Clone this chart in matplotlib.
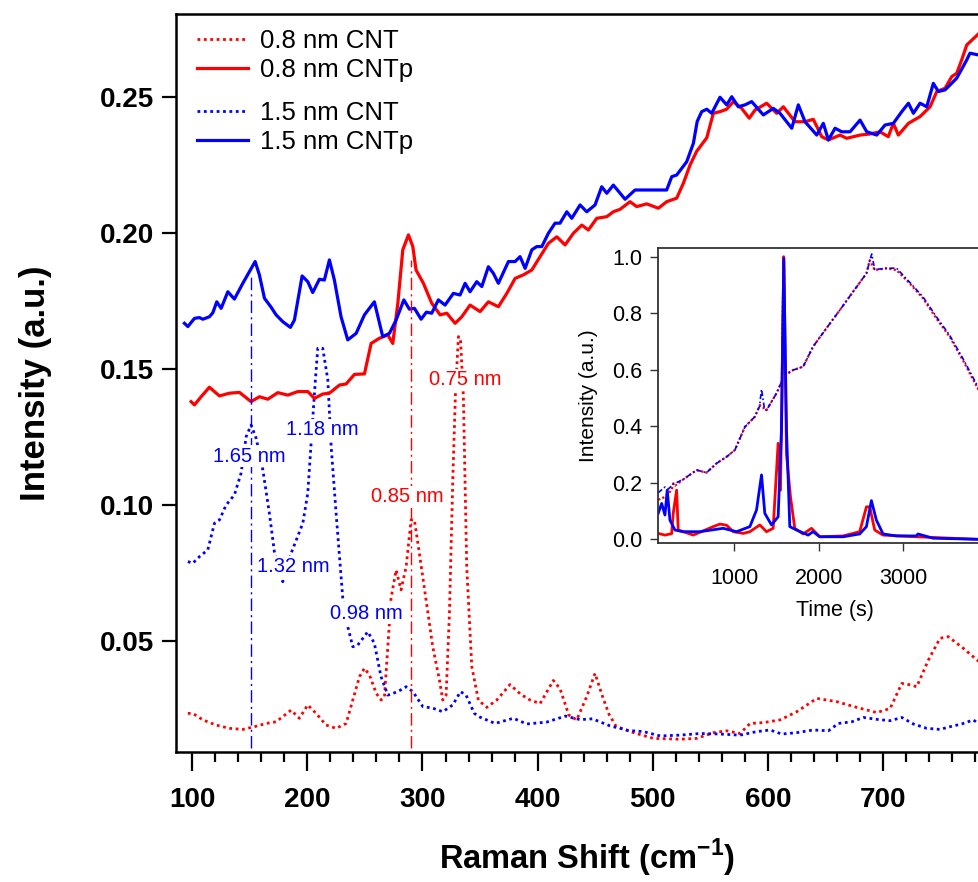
import matplotlib
matplotlib.use("Agg")
import matplotlib.pyplot as plt
from matplotlib.ticker import MultipleLocator, FormatStrFormatter
from matplotlib.lines import Line2D

plt.rcParams['font.family'] = ['Liberation Sans', 'DejaVu Sans']
plt.rcParams['mathtext.fontset'] = 'custom'
plt.rcParams['mathtext.rm'] = 'Liberation Sans'
plt.rcParams['mathtext.bf'] = 'Liberation Sans:bold'
plt.rcParams['lines.solid_joinstyle'] = 'round'

RED = '#ff0000'
BLUE = '#0000ff'

# ---- Raman spectra (RBM region) ----
# 0.8 nm CNT (dotted)
shift_08_cnt = [96.3, 100.6, 109.3, 120.8, 132.4, 144, 154.1, 164.2, 172.9, 178.7, 185.9, 193.1,
                200.4, 207.6, 216.3, 225, 233.7, 239.5, 245.3, 249.6, 254, 259.8, 264.1, 267,
                269.9, 272.7, 277.1, 281.4, 285.8, 290.1, 293, 297.3, 303.1, 308.9, 314.7, 317.6,
                320.5, 323.4, 326.3, 328.6, 331.2, 333, 335.5, 338.4, 342.8, 348.5, 355.8, 364.5,
                376, 385, 393.4, 402.1, 413.6, 419.4, 427, 433.9, 442.6, 449.8, 456, 462, 468,
                480.2, 500.4, 523.6, 538.1, 552.5, 564.1, 575.7, 584.4, 596, 610.4, 624.9, 642.3,
                659.6, 677, 694.4, 706, 716.1, 720.4, 729.1, 739.2, 749.3, 756.5, 769.6, 783.2]
int_08_cnt = [0.0234, 0.0234, 0.0210, 0.0191, 0.0179, 0.0175, 0.0185, 0.0197, 0.0203, 0.0222, 0.0246, 0.0216,
              0.0265, 0.0234, 0.0191, 0.0179, 0.0197, 0.0283, 0.0369, 0.0400, 0.0375, 0.0308, 0.0283, 0.0296,
              0.0479, 0.0657, 0.0761, 0.0688, 0.0773, 0.0945, 0.0945, 0.0822, 0.0651, 0.0479, 0.0357, 0.0283,
              0.0301, 0.0602, 0.1092, 0.1411, 0.1619, 0.1610, 0.1398, 0.0773, 0.0406, 0.0283, 0.0256, 0.0283,
              0.0340, 0.0305, 0.0283, 0.0270, 0.0355, 0.0325, 0.0228, 0.0210, 0.0296, 0.0381, 0.0300, 0.0230, 0.0187,
              0.0167, 0.0142, 0.0139, 0.0142, 0.0163, 0.0170, 0.0160, 0.0197, 0.0200, 0.0210, 0.0240, 0.0289,
              0.0277, 0.0256, 0.0237, 0.0252, 0.0344, 0.0342, 0.0332, 0.0430, 0.0510, 0.0516, 0.0473, 0.0424]

# 0.8 nm CNTp (solid)
shift_08_cntp = [99.1, 102, 107.8, 115, 123.7, 132.4, 141.1, 151.2, 158.4, 165.7, 174.4, 183.1, 191.8,
                 200.4, 206.2, 213.4, 219.2, 227.9, 233.7, 240.9, 249.6, 255.4, 262.6, 269.9, 274.2,
                 278.6, 282.9, 287.8, 291.6, 294.4, 300.8, 308, 315.3, 321.1, 328.3, 334.1, 341.3, 350,
                 357.2, 365.9, 373.2, 380.4, 387.6, 394.9, 402.1, 409.3, 416.6, 423.8, 431, 438.3, 444,
                 451.3, 460, 465.7, 471.5, 480.2, 486, 494.7, 504.8, 512, 520.7, 526.5, 532.3, 538,
                 546.8, 552.5, 558.3, 564.1, 569.9, 577.1, 583.7, 588.7, 598.8, 607.5, 613.3, 623.4,
                 632.1, 639.3, 646.6, 652.4, 662.5, 668.3, 679.9, 688.5, 697.2, 704.4, 708.8, 713.1,
                 721.9, 732, 740.7, 746.5, 753.7, 759.5, 763.8, 768.1, 772.5, 783.2]
int_08_cntp = [0.1380, 0.1368, 0.1398, 0.1433, 0.1401, 0.1411, 0.1414, 0.1380, 0.1398, 0.1389, 0.1413, 0.1404, 0.1417,
               0.1417, 0.1392, 0.1408, 0.1411, 0.1441, 0.1445, 0.1480, 0.1482, 0.1594, 0.1613, 0.1625, 0.1594,
               0.1742, 0.1938, 0.1993, 0.1950, 0.1864, 0.1815, 0.1742, 0.1699, 0.1705, 0.1668, 0.1692, 0.1735, 0.1711,
               0.1747, 0.1729, 0.1778, 0.1833, 0.1846, 0.1864, 0.1913, 0.1962, 0.1986, 0.1956, 0.1999, 0.2029, 0.2011,
               0.2054, 0.2060, 0.2078, 0.2087, 0.2115, 0.2097, 0.2107, 0.2091, 0.2115, 0.2128, 0.2183, 0.2250, 0.2300,
               0.2350, 0.2440, 0.2446, 0.2455, 0.2483, 0.2458, 0.2422, 0.2452, 0.2477, 0.2440, 0.2464, 0.2409,
               0.2409, 0.2418, 0.2354, 0.2342, 0.2360, 0.2348, 0.2360, 0.2364, 0.2372, 0.2354, 0.2403, 0.2360,
               0.2403, 0.2428, 0.2464, 0.2520, 0.2532, 0.2575, 0.2587, 0.2636, 0.2691, 0.2734]

# 1.5 nm CNT (dotted)
shift_15_cnt = [96.3, 100.6, 106.3, 113.6, 119.4, 123.7, 129.5, 136.7, 142.5, 146.9, 151.2, 155.6, 161.4,
                167.1, 171.4, 178.7, 185.9, 196.1, 200.4, 203.3, 207, 209.1, 213.4, 217.8, 220.7, 225,
                230.8, 235.1, 239.5, 243.8, 252.5, 258.2, 264, 269.9, 278.6, 285.8, 291.6, 300.3, 309,
                317.6, 326.3, 333, 337.8, 345, 350, 363, 378.9, 390.5, 407.9, 424, 436.8, 447.5, 462.8,
                479, 491.8, 506.3, 523.6, 541, 558.3, 575.7, 590.2, 601.7, 611.9, 624.9, 639.3, 652.4,
                661.1, 672.7, 682.8, 694.4, 706, 716.1, 726.2, 737.8, 749.3, 758, 768.1, 778.2, 783.2]
int_15_cnt = [0.0792, 0.0786, 0.0810, 0.0835, 0.0933, 0.0945, 0.1000, 0.1037, 0.1117, 0.1251, 0.1294, 0.1245, 0.1129,
              0.0969, 0.0828, 0.0718, 0.0822, 0.0933, 0.1043, 0.1227, 0.1460, 0.1576, 0.1576, 0.1460, 0.1215, 0.0969,
              0.0657, 0.0553, 0.0479, 0.0485, 0.0534, 0.0492, 0.0369, 0.0301, 0.0314, 0.0332, 0.0314, 0.0259, 0.0253,
              0.0240, 0.0265, 0.0314, 0.0301, 0.0234, 0.0220, 0.0197, 0.0216, 0.0195, 0.0202, 0.0224, 0.0211, 0.0214, 0.0188,
              0.0171, 0.0167, 0.0151, 0.0154, 0.0160, 0.0158, 0.0154, 0.0167, 0.0173, 0.0158, 0.0163, 0.0173, 0.0170,
              0.0197, 0.0203, 0.0219, 0.0212, 0.0207, 0.0219, 0.0195, 0.0179, 0.0175, 0.0185, 0.0195, 0.0210, 0.0195]

# 1.5 nm CNTp (solid)
shift_15_cntp = [93.3, 96.3, 102, 106.3, 109.3, 115, 118, 121.4, 125.2, 131, 136.7, 144, 154.7, 158.4,
                 162.8, 168.6, 172.9, 178.7, 185.3, 188.8, 195.5, 200.4, 204.7, 210.5, 214.8, 219.2, 223.5,
                 229.3, 235.1, 242.4, 249.6, 258.2, 265.5, 271.3, 277.1, 283.8, 288.6, 293, 298.8, 303.4,
                 308, 313.8, 319.6, 326.8, 332.6, 337, 341.3, 347.1, 351.5, 357.2, 361.5, 365.9, 374.6,
                 380.4, 384.7, 389.1, 394.9, 399.2, 403.6, 409.3, 415.1, 419.4, 425.3, 429.6, 436.8, 442.6,
                 449.8, 455.6, 460, 465.7, 475.9, 484.5, 512, 516.4, 520.7, 529.4, 535.2, 538.5, 542.4,
                 546.8, 551.1, 558.3, 564.1, 568.5, 574.2, 580, 585.8, 595.9, 604.6, 610.4, 620.6, 626.3,
                 632.1, 642.3, 648, 652.4, 658.2, 664, 671.2, 679.9, 685.7, 694.4, 701.6, 708.8, 716.1,
                 721.9, 726.2, 732, 737.8, 743.5, 747.9, 753.7, 763.8, 772.5, 775.3, 783.2]
int_15_cntp = [0.1668, 0.1656, 0.1686, 0.1689, 0.1683, 0.1692, 0.1707, 0.1747, 0.1723, 0.1784, 0.1757, 0.1815, 0.1895, 0.1846,
               0.1760, 0.1727, 0.1699, 0.1674, 0.1653, 0.1680, 0.1842, 0.1821, 0.1781, 0.1830, 0.1827, 0.1901, 0.1827,
               0.1692, 0.1607, 0.1631, 0.1699, 0.1747, 0.1619, 0.1631, 0.1680, 0.1754, 0.1720, 0.1723, 0.1683, 0.1709,
               0.1705, 0.1754, 0.1735, 0.1778, 0.1772, 0.1815, 0.1784, 0.1821, 0.1803, 0.1876, 0.1852, 0.1815, 0.1895,
               0.1895, 0.1913, 0.1870, 0.1938, 0.1950, 0.1950, 0.1999, 0.2036, 0.2036, 0.2078, 0.2054, 0.2103, 0.2078,
               0.2103, 0.2170, 0.2146, 0.2176, 0.2124, 0.2158, 0.2158, 0.2207, 0.2213, 0.2262, 0.2330, 0.2410, 0.2446,
               0.2455, 0.2440, 0.2499, 0.2471, 0.2501, 0.2464, 0.2471, 0.2483, 0.2434, 0.2458, 0.2440, 0.2385, 0.2471,
               0.2409, 0.2360, 0.2403, 0.2342, 0.2385, 0.2372, 0.2372, 0.2415, 0.2372, 0.2360, 0.2397, 0.2403, 0.2446,
               0.2477, 0.2440, 0.2477, 0.2464, 0.2550, 0.2520, 0.2526, 0.2569, 0.2636, 0.2661, 0.2654]

# RBM peak positions marked by vertical guides
peak_15 = 151.2
peak_15_top = 0.184
peak_08 = 290.1
peak_08_top = 0.190

# diameter labels: (text, shift, intensity, colour)
diam_labels = [('1.65 nm', 149.7, 0.118, BLUE),
               ('1.18 nm', 212.6, 0.1276, BLUE),
               ('1.32 nm', 188.0, 0.0773, BLUE),
               ('0.98 nm', 251.6, 0.0602, BLUE),
               ('0.85 nm', 287.2, 0.1030, RED),
               ('0.75 nm', 337.0, 0.1460, RED)]

# ---- inset: time traces ----
t_08_cnt = [100, 180, 260, 278, 300, 396, 555, 673, 792, 910, 1008, 1127, 1245, 1304, 1383, 1502, 1565,
            1585, 1605, 1698, 1817, 1935, 2093, 2251, 2408, 2567, 2606, 2665, 2804, 2922, 3079, 3237,
            3395, 3553, 3710, 3897, 4150]
i_08_cnt = [0.140, 0.150, 0.175, 0.198, 0.190, 0.212, 0.245, 0.236, 0.269, 0.292, 0.316, 0.398, 0.434, 0.475,
            0.457, 0.517, 0.560, 1.000, 0.580, 0.599, 0.611, 0.682, 0.747, 0.811, 0.876, 0.941, 0.988, 0.953,
            0.959, 0.953, 0.906, 0.853, 0.782, 0.717, 0.634, 0.528, 0.400]
t_15_cnt = [100, 180, 220, 278, 396, 555, 673, 792, 910, 1008, 1127, 1245, 1300, 1324, 1360, 1383, 1502,
            1565, 1585, 1605, 1698, 1817, 1935, 2093, 2251, 2408, 2567, 2606, 2630, 2665, 2804, 2922,
            3079, 3237, 3395, 3553, 3710, 3897, 4150]
i_15_cnt = [0.165, 0.185, 0.178, 0.195, 0.212, 0.245, 0.236, 0.269, 0.292, 0.316, 0.398, 0.434, 0.470, 0.531,
            0.460, 0.457, 0.517, 0.560, 1.000, 0.585, 0.599, 0.611, 0.682, 0.747, 0.811, 0.876, 0.941, 0.985,
            1.010, 0.955, 0.959, 0.960, 0.910, 0.858, 0.788, 0.722, 0.640, 0.535, 0.405]
t_08_cntp = [100, 180, 259, 278, 318, 337, 515, 752, 831, 910, 989, 1107, 1186, 1304, 1383, 1462, 1521,
             1549, 1588, 1620, 1667, 1718, 1817, 1916, 2014, 2290, 2487, 2567, 2606, 2665, 2764, 3159, 3897, 4150]
i_08_cntp = [0.021, 0.015, 0.020, 0.092, 0.174, 0.033, 0.015, 0.045, 0.054, 0.050, 0.027, 0.021, 0.027, 0.051,
             0.027, 0.039, 0.340, 0.174, 1.000, 0.300, 0.151, 0.039, 0.019, 0.039, 0.009, 0.012, 0.027, 0.115,
             0.115, 0.033, 0.015, 0.009, 0.000, 0.000]
t_15_cntp = [100, 141, 180, 207, 239, 298, 396, 594, 870, 1028, 1186, 1265, 1324, 1363, 1442, 1521, 1561,
             1588, 1620, 1659, 1738, 1876, 1935, 2014, 2290, 2487, 2567, 2626, 2685, 2764, 2922, 3159,
             3177, 3355, 3897, 4150]
i_15_cntp = [0.092, 0.127, 0.086, 0.174, 0.068, 0.033, 0.027, 0.027, 0.039, 0.027, 0.045, 0.104, 0.228, 0.092,
             0.051, 0.080, 0.387, 0.994, 0.387, 0.045, 0.033, 0.015, 0.027, 0.009, 0.009, 0.019, 0.045, 0.137,
             0.068, 0.019, 0.012, 0.012, 0.019, 0.004, 0.000, 0.000]

W, H = 979, 882
fig = plt.figure(figsize=(W / 100, H / 100), dpi=100)

# main axes (runs past the right edge of the figure)
ax = fig.add_axes([176 / W, (H - 752) / H, 822.4 / W, 738 / H])

dot = (0, (1, 1.3))
ax.plot(shift_08_cnt, int_08_cnt, color=RED, lw=2.0, ls=dot)
ax.plot(shift_15_cnt, int_15_cnt, color=BLUE, lw=2.0, ls=dot)
ax.plot(shift_08_cntp, int_08_cntp, color=RED, lw=2.3)
ax.plot(shift_15_cntp, int_15_cntp, color=BLUE, lw=2.3)

dashdot = (0, (9, 3, 1.5, 3))
ax.vlines(peak_15, 0.0105, peak_15_top, color=BLUE, lw=1.0, ls=dashdot)
ax.vlines(peak_08, 0.0105, peak_08_top, color=RED, lw=1.0, ls=dashdot)

for txt, xv, yv, col in diam_labels:
    ax.text(xv, yv, txt, color=col, fontsize=14.5, ha='center', va='center', zorder=5,
            bbox=dict(facecolor='white', edgecolor='none', pad=1.0))

ax.set_xlim(86, 800)
ax.set_ylim(0.0092, 0.2805)
ax.set_xticks([100, 200, 300, 400, 500, 600, 700])
ax.xaxis.set_minor_locator(MultipleLocator(20))
ax.set_yticks([0.05, 0.10, 0.15, 0.20, 0.25])
ax.yaxis.set_major_formatter(FormatStrFormatter('%.2f'))
ax.tick_params(axis='x', which='major', direction='out', length=14, width=1.6, pad=11,
               labelsize=20)
ax.tick_params(axis='x', which='minor', direction='out', length=7.5, width=1.6)
ax.tick_params(axis='y', which='major', direction='out', length=10, width=1.6, pad=6,
               labelsize=20)
for lab in ax.get_xticklabels() + ax.get_yticklabels():
    lab.set_fontweight('bold')
for sp in ax.spines.values():
    sp.set_linewidth(1.8)

ax.set_xlabel(r'Raman Shift (cm$^{\mathbf{-1}}$)', fontsize=23.5, fontweight='bold', labelpad=17)
ax.set_ylabel('Intensity (a.u.)', fontsize=25, fontweight='bold', labelpad=34)

# legend in two groups
h08 = [Line2D([], [], color=RED, lw=2.0, ls=dot), Line2D([], [], color=RED, lw=2.3)]
h15 = [Line2D([], [], color=BLUE, lw=2.0, ls=dot), Line2D([], [], color=BLUE, lw=2.3)]
leg_kw = dict(frameon=False, fontsize=18.5, handlelength=2.0, handletextpad=0.45,
              borderpad=0, borderaxespad=0, labelspacing=0.2, loc='center left',
              bbox_transform=fig.transFigure)
leg1 = ax.legend(h08, ['0.8 nm CNT', '0.8 nm CNTp'], bbox_to_anchor=(197 / W, 1 - 55.3 / H), **leg_kw)
ax.add_artist(leg1)
ax.legend(h15, ['1.5 nm CNT', '1.5 nm CNTp'], bbox_to_anchor=(197 / W, 1 - 127.8 / H), **leg_kw)

# inset
axin = fig.add_axes([657.7 / W, (H - 543) / H, 355 / W, 295 / H])
axin.plot(t_08_cnt, i_08_cnt, color=RED, lw=1.6, ls=(0, (1, 1)))
axin.plot(t_15_cnt, i_15_cnt, color=BLUE, lw=1.2, ls=(0, (3, 1.5, 1, 1.5)))
axin.plot(t_08_cntp, i_08_cntp, color=RED, lw=2.0)
axin.plot(t_15_cntp, i_15_cntp, color=BLUE, lw=2.0)
axin.set_xlim(94, 4300)
axin.set_ylim(-0.013, 1.031)
axin.set_xticks([1000, 2000, 3000])
axin.set_yticks([0.0, 0.2, 0.4, 0.6, 0.8, 1.0])
axin.yaxis.set_major_formatter(FormatStrFormatter('%.1f'))
axin.tick_params(axis='y', direction='out', length=6, width=1.0, labelsize=15.5,
                 color='#333333', pad=5)
axin.tick_params(axis='x', direction='out', length=6, width=1.0, labelsize=15.5,
                 color='#333333', pad=12)
for sp in axin.spines.values():
    sp.set_linewidth(1.3)
    sp.set_color('#333333')
axin.set_xlabel('Time (s)', fontsize=15.5, labelpad=8)
axin.set_ylabel('Intensity (a.u.)', fontsize=15, labelpad=10)

fig.savefig('out.png', dpi=100)
